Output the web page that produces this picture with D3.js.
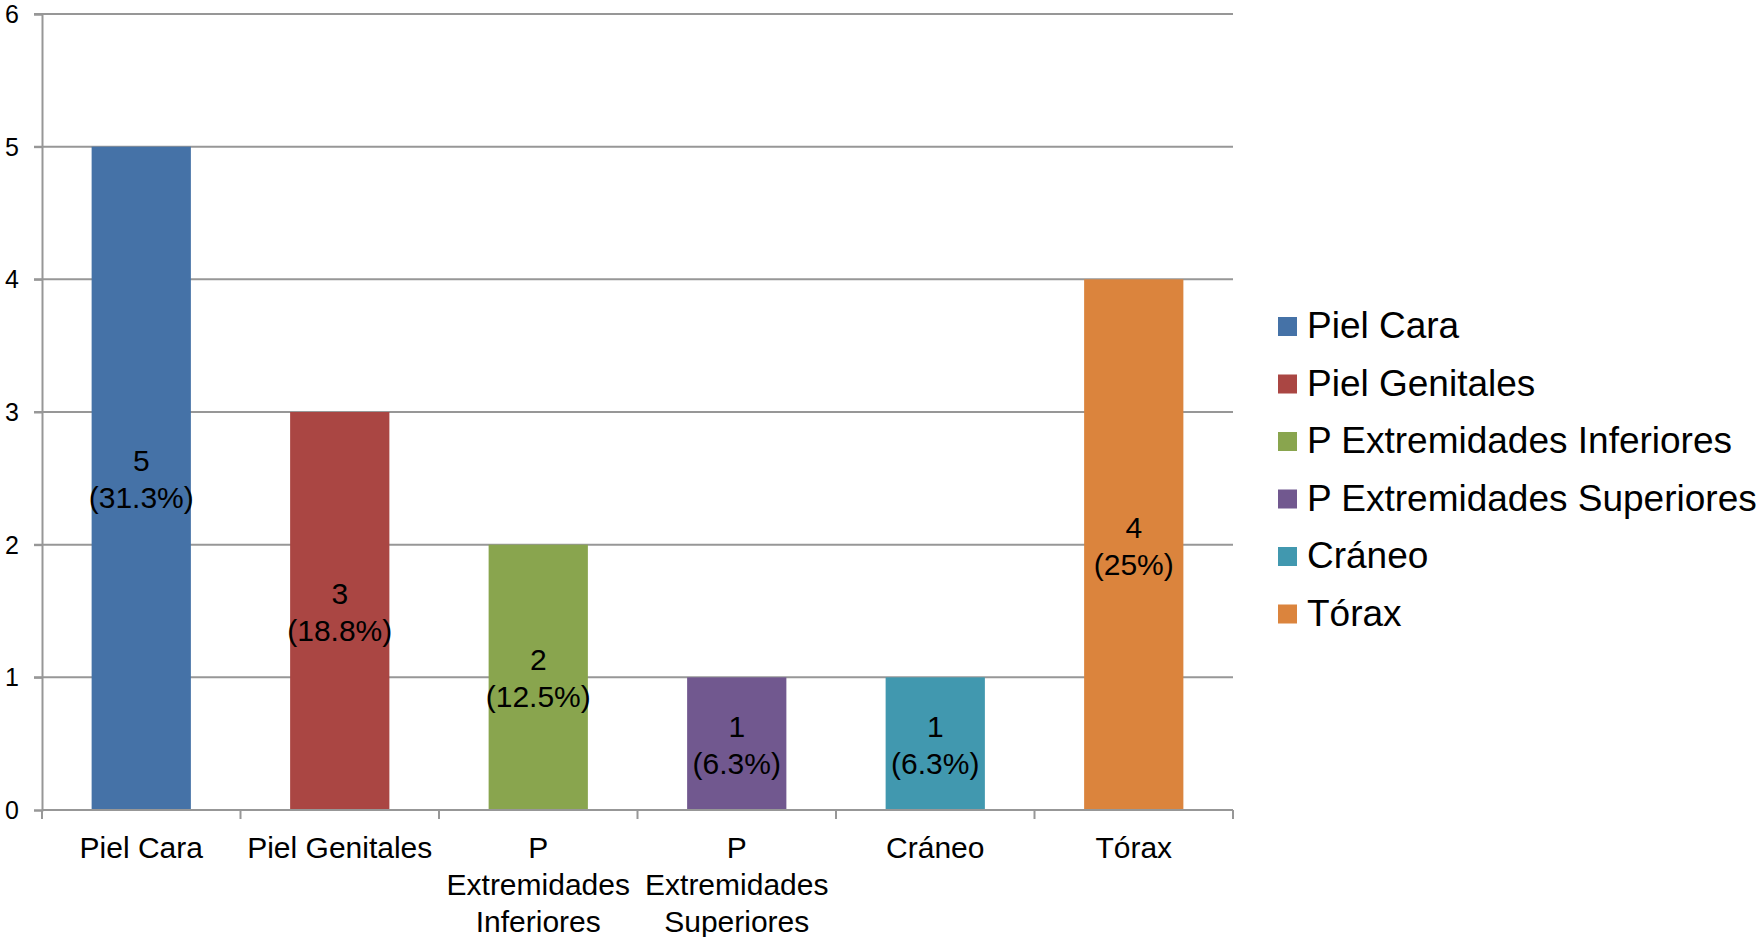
<!DOCTYPE html>
<html>
<head>
<meta charset="utf-8">
<script src="https://cdn.jsdelivr.net/npm/d3@7"></script>
<style>
  html, body { margin: 0; padding: 0; background: #fff; }
  svg { display: block; font-family: "Liberation Sans", Arial, sans-serif; }
</style>
</head>
<body>
<svg id="chart" width="1763" height="937"></svg>
<script>
const categories = ["Piel Cara", "Piel Genitales", "P Extremidades Inferiores", "P Extremidades Superiores", "Cráneo", "Tórax"];
const values = [5, 3, 2, 1, 1, 4];
const percentLabels = ["31.3%", "18.8%", "12.5%", "6.3%", "6.3%", "25%"];
const colors = ["#4572A7", "#AA4643", "#89A54E", "#71588F", "#4198AF", "#DB843D"];
const yTicks = [0, 1, 2, 3, 4, 5, 6];

(function () {
const svg = d3.select("#chart");
const plotLeft = 42, plotRight = 1233, plotTop = 14, plotBottom = 810;
const gridColor = "#979797";

const x = d3.scaleBand().domain(categories).range([plotLeft, plotRight]).paddingInner(0.5).paddingOuter(0.25);
const xStep = d3.scaleBand().domain(categories).range([plotLeft, plotRight]).padding(0);
const y = d3.scaleLinear().domain([0, 6]).range([plotBottom, plotTop]);

// gridlines
svg.append("g").selectAll("line").data(yTicks.filter(d => d > 0)).join("line")
  .attr("x1", plotLeft - 8).attr("x2", plotRight)
  .attr("y1", d => y(d)).attr("y2", d => y(d))
  .attr("stroke", gridColor).attr("stroke-width", 2);

// y axis
const yAxis = svg.append("g").attr("transform", `translate(${plotLeft},0)`)
  .call(d3.axisLeft(y).tickValues(yTicks).tickSize(8).tickFormat(""));
yAxis.select(".domain").attr("stroke", gridColor).attr("stroke-width", 2);
yAxis.selectAll(".tick line").attr("stroke", gridColor).attr("stroke-width", 2);
svg.append("g").selectAll("text").data(yTicks).join("text")
  .attr("x", 19).attr("y", d => y(d)).attr("dy", "0.36em")
  .attr("text-anchor", "end").attr("font-size", 25).attr("fill", "#000")
  .text(d => d3.format("d")(d));

// bars
svg.append("g").selectAll("rect").data(categories).join("rect")
  .attr("x", d => x(d)).attr("width", x.bandwidth())
  .attr("y", (d, i) => y(values[i])).attr("height", (d, i) => y(0) - y(values[i]))
  .attr("fill", (d, i) => colors[i]);

// x axis
svg.append("line").attr("x1", plotLeft).attr("x2", plotRight).attr("y1", plotBottom).attr("y2", plotBottom)
  .attr("stroke", gridColor).attr("stroke-width", 2);
const boundaries = categories.map(c => xStep(c)).concat([plotRight]);
svg.append("g").selectAll("line").data(boundaries).join("line")
  .attr("x1", d => d).attr("x2", d => d).attr("y1", plotBottom).attr("y2", plotBottom + 9)
  .attr("stroke", gridColor).attr("stroke-width", 2);

// x labels with wrapping
function wrapWords(text, width, fontSize) {
  const ctx = document.createElement("canvas").getContext("2d");
  ctx.font = `${fontSize}px "Liberation Sans", Arial, sans-serif`;
  const words = text.split(" ");
  const lines = [];
  let cur = "";
  words.forEach(w => {
    const t = cur ? cur + " " + w : w;
    if (ctx.measureText(t).width > width && cur) { lines.push(cur); cur = w; }
    else cur = t;
  });
  if (cur) lines.push(cur);
  return lines;
}
const xl = svg.append("g");
categories.forEach((c, i) => {
  const cx = x(c) + x.bandwidth() / 2;
  const lines = wrapWords(c, xStep.bandwidth(), 30);
  const t = xl.append("text").attr("text-anchor", "middle").attr("font-size", 30).attr("fill", "#000");
  lines.forEach((ln, j) => {
    t.append("tspan").attr("x", cx).attr("y", 858 + j * 37).text(ln);
  });
});

// data labels
const dl = svg.append("g");
categories.forEach((c, i) => {
  const cx = x(c) + x.bandwidth() / 2;
  const cy = (y(values[i]) + y(0)) / 2;
  const t = dl.append("text").attr("text-anchor", "middle").attr("font-size", 30).attr("fill", "#000");
  t.append("tspan").attr("x", cx).attr("y", cy - 7).text(values[i]);
  t.append("tspan").attr("x", cx).attr("y", cy + 30).text(`(${percentLabels[i]})`);
});

// legend
const lg = svg.append("g");
categories.forEach((c, i) => {
  const ty = 317 + i * 57.5;
  lg.append("rect").attr("x", 1278).attr("y", ty).attr("width", 19).attr("height", 19).attr("fill", colors[i]);
  lg.append("text").attr("x", 1307).attr("y", ty + 21).attr("font-size", 37).attr("fill", "#000").text(c);
});
})();
</script>
</body>
</html>
